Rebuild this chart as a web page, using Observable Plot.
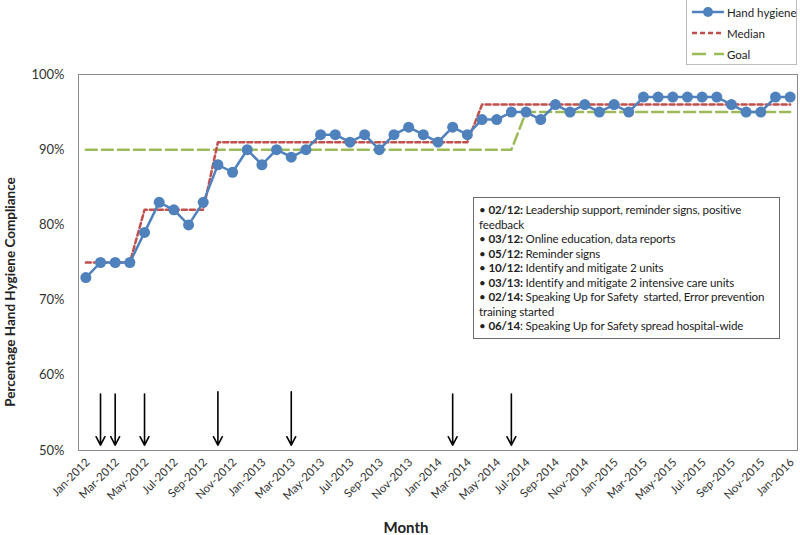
<!DOCTYPE html>
<html><head><meta charset="utf-8">
<script src="https://cdn.jsdelivr.net/npm/d3@7"></script>
<script src="https://cdn.jsdelivr.net/npm/@observablehq/plot@0.6"></script>
<style>
html,body{margin:0;padding:0;background:#fff;}
#wrap{position:relative;width:800px;height:535px;overflow:hidden;font-family:Lato,"Open Sans",sans-serif;color:#222;}
#chart{position:absolute;left:0;top:0;}
.legend{position:absolute;left:686px;top:-2px;width:111px;height:67px;border:1px solid #bdbdbd;background:#fff;box-sizing:border-box;}
.legend .row{position:absolute;left:5px;height:20px;display:flex;align-items:center;font-size:11.5px;white-space:nowrap;}
.legend svg{margin-right:3px;flex:none;}
.notes{position:absolute;left:473px;top:197px;width:307px;height:142px;border:1.5px solid #6b6b6b;box-sizing:border-box;background:#fff;padding:5px 0 0 5px;font-size:11.6px;letter-spacing:-0.15px;line-height:14.5px;white-space:pre;}
.ytitle{position:absolute;left:10px;top:292px;transform:translate(-50%,-50%) rotate(-90deg);font-weight:bold;font-size:13.5px;white-space:nowrap;}
.xtitle{position:absolute;left:406px;top:527px;transform:translate(-50%,-50%);font-weight:bold;font-size:15px;}
</style></head>
<body><div id="wrap"><div id="chart"></div></div>
<script>
const months = ["Jan-2012","Feb-2012","Mar-2012","Apr-2012","May-2012","Jun-2012","Jul-2012","Aug-2012","Sep-2012","Oct-2012","Nov-2012","Dec-2012",
"Jan-2013","Feb-2013","Mar-2013","Apr-2013","May-2013","Jun-2013","Jul-2013","Aug-2013","Sep-2013","Oct-2013","Nov-2013","Dec-2013",
"Jan-2014","Feb-2014","Mar-2014","Apr-2014","May-2014","Jun-2014","Jul-2014","Aug-2014","Sep-2014","Oct-2014","Nov-2014","Dec-2014",
"Jan-2015","Feb-2015","Mar-2015","Apr-2015","May-2015","Jun-2015","Jul-2015","Aug-2015","Sep-2015","Oct-2015","Nov-2015","Dec-2015",
"Jan-2016"];
const handHygiene = [73,75,75,75,79,83,82,80,83,88,87,90,
  88,90,89,90,92,92,91,92,90,92,93,92,
  91,93,92,94,94,95,95,94,96,95,96,95,
  96,95,97,97,97,97,97,97,96,95,95,97,
  97];
const median = [75,75,75,75,82,82,82,82,82,91,91,91,
  91,91,91,91,91,91,91,91,91,91,91,91,
  91,91,91,96,96,96,96,96,96,96,96,96,
  96,96,96,96,96,96,96,96,96,96,96,96,
  96];
const goal = [90,90,90,90,90,90,90,90,90,90,90,90,
  90,90,90,90,90,90,90,90,90,90,90,90,
  90,90,90,90,90,90,95,95,95,95,95,95,
  95,95,95,95,95,95,95,95,95,95,95,95,
  95];
const yTicks = [50,60,70,80,90,100];
const xTickEvery = 2;
const arrowMonths = ["Feb-2012","Mar-2012","May-2012","Oct-2012","Mar-2013","Feb-2014","Jun-2014"];
const arrowTop = [57.5,57.5,57.5,57.8,57.8,57.5,57.5];
const arrowBottom = 50.7;
const noteDates = ["02/12:","03/12:","05/12:","10/12:","03/13:","02/14:","06/14"];
const noteTexts = [
  [" Leadership support, reminder signs, positive","feedback"],
  [" Online education, data reports"],
  [" Reminder signs"],
  [" Identify and mitigate 2 units"],
  [" Identify and mitigate 2 intensive care units"],
  [" Speaking Up for Safety  started, Error prevention","training started"],
  [": Speaking Up for Safety spread hospital-wide"]
];
const seriesNames = ["Hand hygiene","Median","Goal"];
const colors = {hand:"#4F81BD", median:"#C0504D", goal:"#9BBB59"};

const idx = (d,i) => i;
const arrows = arrowMonths.map((m,k) => ({i: months.indexOf(m), top: arrowTop[k], bottom: arrowBottom}));

const chart = Plot.plot({
  width: 800, height: 535,
  marginTop: 74, marginBottom: 85, marginLeft: 78, marginRight: 3,
  x: {domain: [-0.5, months.length - 0.5]},
  y: {domain: [50, 100]},
  style: {fontFamily: "Lato, 'Open Sans', sans-serif", color: "#333", background: "transparent", overflow: "visible"},
  marks: [
    Plot.frame({stroke: "#8a8a8a", strokeWidth: 1}),
    Plot.axisY({ticks: yTicks, tickFormat: d => d + "%", tickSize: 0, tickPadding: 14, fontSize: 13, label: null}),
    Plot.axisX({ticks: d3.range(0, months.length, xTickEvery), tickFormat: i => months[i], tickRotate: -45, tickSize: 0, tickPadding: 10, dx: 2, fontSize: 11.5, label: null}),
    Plot.line(goal, {x: idx, y: d => d, stroke: colors.goal, strokeWidth: 2.5, strokeDasharray: "11,5"}),
    Plot.line(median, {x: idx, y: d => d, stroke: colors.median, strokeWidth: 2.5, strokeDasharray: "5,3"}),
    Plot.line(handHygiene, {x: idx, y: d => d, stroke: colors.hand, strokeWidth: 2.5}),
    Plot.dot(handHygiene, {x: idx, y: d => d, r: 5.5, fill: colors.hand, stroke: "none"}),
    Plot.arrow(arrows, {x1: "i", x2: "i", y1: "top", y2: "bottom", stroke: "black", strokeWidth: 1.6, headLength: 9, headAngle: 55})
  ]
});
document.getElementById("chart").appendChild(chart);

const wrap = document.getElementById("wrap");
// legend
const leg = document.createElement("div");
leg.className = "legend";
const sampleSvg = [
  `<svg width="32" height="12"><line x1="0" y1="6" x2="32" y2="6" stroke="${colors.hand}" stroke-width="2.5"/><circle cx="16" cy="6" r="5" fill="${colors.hand}"/></svg>`,
  `<svg width="32" height="12"><line x1="0" y1="6" x2="32" y2="6" stroke="${colors.median}" stroke-width="2.5" stroke-dasharray="5,3"/></svg>`,
  `<svg width="32" height="12"><line x1="0" y1="6" x2="32" y2="6" stroke="${colors.goal}" stroke-width="2.5" stroke-dasharray="14,8"/></svg>`
];
seriesNames.forEach((n,k) => {
  const r = document.createElement("div");
  r.className = "row";
  r.style.top = (3 + k*21) + "px";
  r.innerHTML = sampleSvg[k] + `<span>${n}</span>`;
  leg.appendChild(r);
});
wrap.appendChild(leg);
// notes
const notes = document.createElement("div");
notes.className = "notes";
notes.innerHTML = noteDates.map((d,k) => {
  const t = noteTexts[k];
  let s = `<div>• <b>${d}</b>${t[0]}</div>`;
  for (let j = 1; j < t.length; j++) s += `<div>${t[j]}</div>`;
  return s;
}).join("");
wrap.appendChild(notes);
// axis titles
const yt = document.createElement("div"); yt.className = "ytitle"; yt.textContent = "Percentage Hand Hygiene Compliance"; wrap.appendChild(yt);
const xt = document.createElement("div"); xt.className = "xtitle"; xt.textContent = "Month"; wrap.appendChild(xt);
</script>
</body></html>
